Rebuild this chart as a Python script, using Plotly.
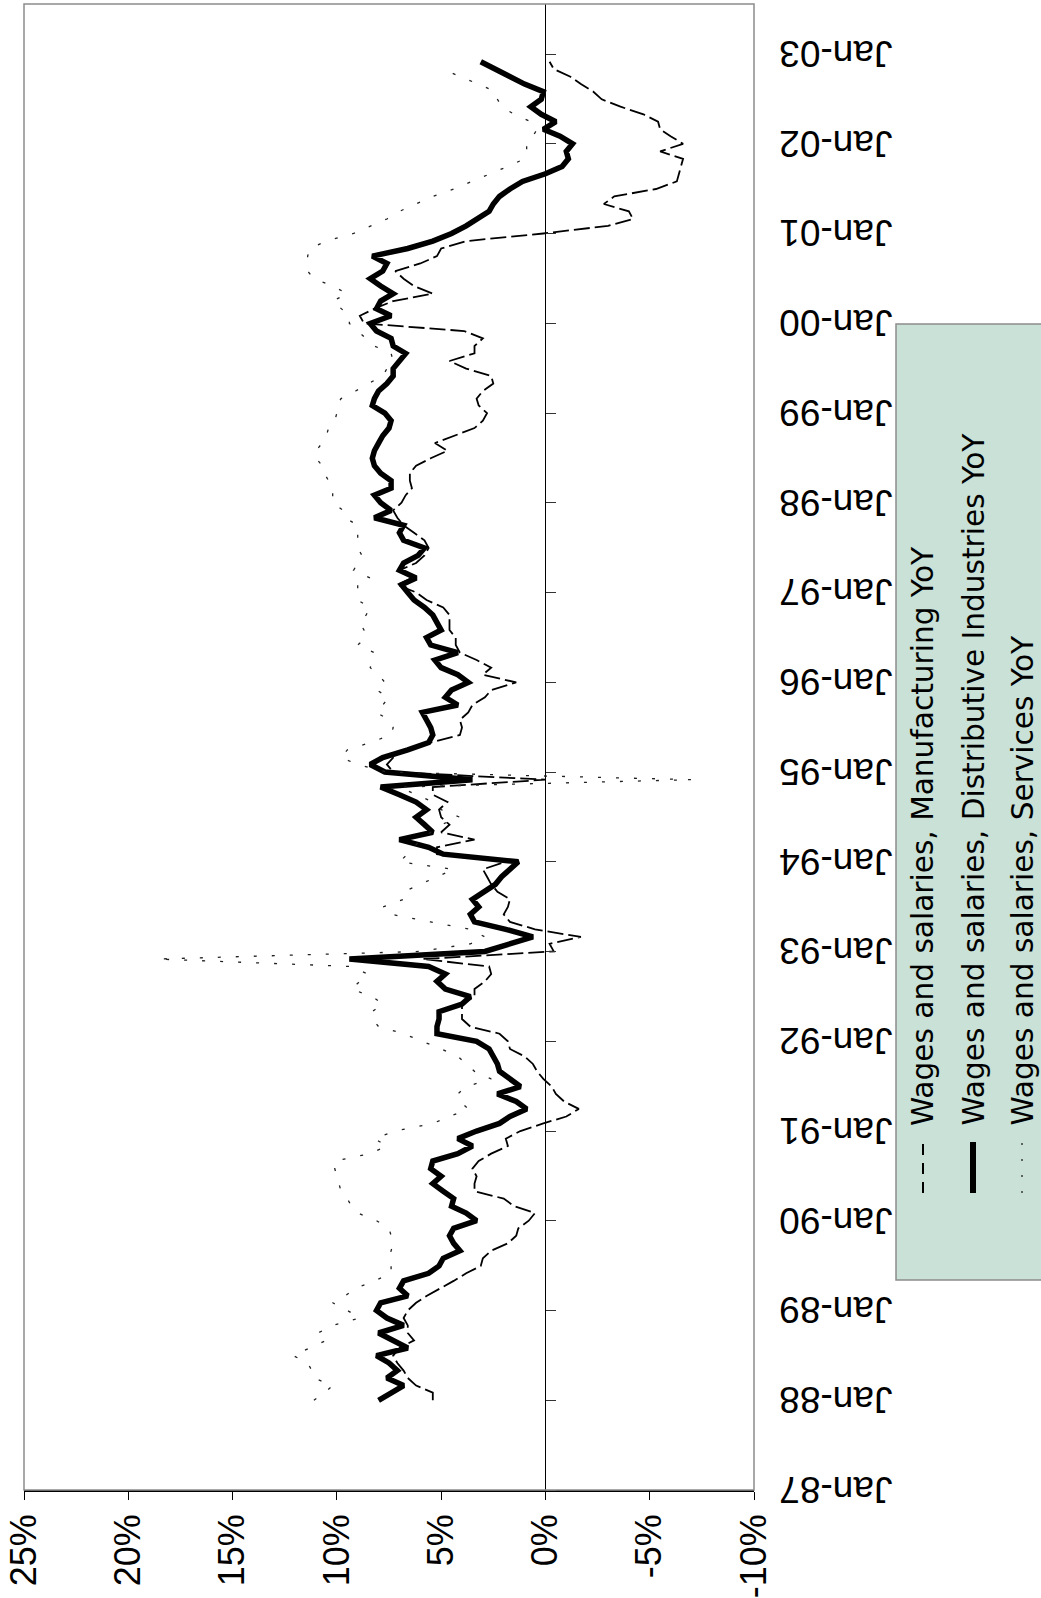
import pandas as pd
import plotly.graph_objects as go

# ---------------- data (YoY %, monthly from Jan-88) ----------------
START = "1988-01-01"

MANUFACTURING = [
    5.4, 5.4, 6.2, 6.6, 6.8, 7.1, 7.3, 7.0, 6.3, 6.6, 6.6, 6.8,
    6.6, 6.2, 5.7, 5.0, 4.4, 3.8, 3.1, 3.0, 2.6, 1.8, 1.4, 1.3,
    0.8, 0.5, 1.5, 2.0, 3.4, 3.4, 3.3, 3.5, 3.2, 2.6, 1.8, 1.9,
    1.2, 0.1, -1.0, -1.6, -0.9, -0.5, -0.3, 0.1, 0.4, 0.6, 1.0, 1.7,
    1.8, 2.2, 3.6, 4.0, 4.0, 4.0, 3.4, 3.4, 2.9, 2.6, 2.7, 5.9,
    -0.4, -0.2, -1.7, 0.5, 1.7, 2.0, 1.8, 1.7, 2.3, 2.6, 2.8, 3.0,
    1.9, 5.2, 5.2, 3.4, 5.0, 4.6, 5.0, 5.1, 4.7, 5.4, 5.4, 0.0,
    7.3, 7.6, 7.3, 6.8, 5.5, 4.1, 4.0, 4.1, 3.7, 3.5, 2.9, 2.6,
    1.4, 3.0, 2.6, 3.3, 4.1, 4.3, 4.3, 4.6, 4.6, 4.6, 4.9, 5.7,
    6.2, 7.1, 6.4, 7.0, 6.2, 5.8, 5.6, 5.8, 6.3, 6.8, 7.1, 7.3,
    6.9, 6.7, 6.4, 6.5, 6.5, 6.2, 5.5, 4.7, 5.3, 4.4, 3.4, 3.0,
    2.8, 3.2, 3.3, 3.0, 2.5, 2.6, 3.8, 4.6, 3.4, 3.4, 3.0, 3.9,
    8.7, 8.9, 8.2, 7.3, 5.4, 6.3, 6.8, 7.2, 6.0, 5.2, 5.0, 3.8,
    0.1, -3.0, -4.2, -4.0, -2.8, -3.3, -5.3, -6.3, -6.4, -6.5, -6.6, -5.5,
    -6.6, -6.0, -5.5, -5.4, -4.7, -3.6, -2.7, -2.3, -1.7, -1.2, -0.4, -0.2,
]

DISTRIBUTIVE = [
    8.0, 7.4, 6.8, 7.6, 7.1, 7.5, 8.1, 6.6, 7.3, 8.0, 6.8, 7.6,
    8.1, 7.9, 6.6, 7.0, 6.8, 5.6, 5.1, 4.9, 4.1, 4.4, 4.6, 4.4,
    3.3, 3.8, 4.5, 4.4, 4.9, 5.4, 5.0, 5.5, 5.4, 4.2, 3.5, 4.2,
    3.3, 2.2, 1.7, 0.9, 1.4, 2.3, 1.2, 1.7, 2.2, 2.3, 2.5, 2.7,
    3.3, 5.2, 5.2, 5.1, 5.1, 4.0, 3.6, 4.8, 5.2, 4.8, 5.6, 9.4,
    2.9, 1.6, 0.6, 1.9, 3.4, 3.6, 3.2, 3.5, 2.9, 2.4, 2.1, 1.7,
    1.3, 4.9, 5.6, 7.0, 5.4, 5.8, 6.2, 5.7, 6.2, 7.0, 7.9, 3.5,
    7.7, 8.4, 7.8, 6.6, 5.6, 5.4, 5.5, 5.7, 5.9, 4.2, 4.8, 4.5,
    3.7, 4.2, 5.0, 5.3, 4.2, 5.5, 5.7, 5.0, 5.2, 5.4, 5.8, 6.3,
    6.6, 6.9, 6.2, 7.0, 6.8, 6.1, 5.8, 6.8, 7.0, 6.8, 8.2, 7.4,
    7.9, 8.2, 7.4, 7.4, 7.9, 8.2, 8.3, 8.2, 8.0, 7.8, 7.5, 7.4,
    7.7, 8.3, 8.2, 8.0, 7.6, 7.3, 7.3, 7.0, 6.7, 7.3, 7.4, 8.1,
    8.4, 7.4, 8.1, 7.9, 7.3, 7.9, 8.4, 7.8, 7.6, 8.3, 6.6, 5.4,
    4.5, 3.8, 3.3, 2.7, 2.5, 2.2, 1.7, 1.1, 0.0, -0.8, -1.1, -1.0,
    -1.3, -0.7, 0.1, -0.5, 0.2, 0.7, 0.2, 0.1, 1.0, 1.7, 2.5, 3.1,
]

SERVICES = [
    11.1, 10.6, 10.2, 11.1, 11.2, 11.4, 12.1, 11.3, 10.5, 10.9, 10.2, 8.9,
    9.5, 10.2, 9.6, 9.1, 8.2, 7.4, 7.4, 7.5, 7.4, 7.3, 7.4, 7.5,
    8.1, 9.0, 9.3, 9.5, 9.8, 9.9, 10.0, 10.1, 10.1, 8.4, 7.6, 8.2,
    7.2, 5.4, 4.6, 3.7, 4.1, 4.2, 3.8, 2.6, 3.4, 3.8, 4.2, 5.0,
    5.9, 6.8, 8.0, 8.3, 8.3, 7.8, 8.3, 9.3, 8.9, 8.5, 9.4, 18.6,
    6.0, 3.6, 2.9, 3.6, 5.5, 7.4, 7.8, 6.8, 6.8, 6.0, 5.2, 4.4,
    7.0, 6.6, 6.3, 6.0, 5.5, 5.0, 4.1, 5.0, 5.4, 6.2, 7.0, -7.0,
    7.6, 9.0, 9.8, 9.5, 8.4, 7.4, 7.3, 7.5, 8.1, 7.8, 7.5, 8.1,
    7.7, 8.0, 8.4, 8.3, 8.2, 9.0, 8.6, 8.7, 8.9, 8.6, 8.4, 9.0,
    9.0, 9.0, 8.4, 9.2, 9.0, 8.8, 9.0, 9.0, 9.0, 9.0, 9.6, 9.7,
    10.2, 10.2, 10.2, 10.4, 10.6, 10.7, 11.0, 11.0, 10.7, 10.5, 10.4, 10.1,
    10.0, 10.0, 9.8, 9.1, 8.5, 7.8, 7.6, 7.3, 7.4, 8.2, 8.6, 9.0,
    9.4, 9.4, 9.8, 10.2, 9.5, 10.2, 11.1, 11.4, 11.4, 11.4, 11.3, 10.5,
    9.2, 8.4, 7.6, 7.0, 6.2, 5.4, 4.4, 3.5, 2.6, 1.8, 1.0, 0.9,
    0.9, 0.6, 0.4, 0.7, 1.5, 2.1, 2.3, 2.4, 3.2, 4.1, 4.9,
]

SERIES_NAMES = [
    "Wages and salaries, Manufacturing YoY",
    "Wages and salaries, Distributive Industries YoY",
    "Wages and salaries, Services YoY",
]

PCT_TICKS = [25, 20, 15, 10, 5, 0, -5, -10]
PCT_TICK_LABELS = ["25%", "20%", "15%", "10%", "5%", "0%", "-5%", "-10%"]
PCT_RANGE = [25, -10]

DATE_TICKS = ["%d-01-01" % y for y in range(1987, 2004)]
DATE_TICK_LABELS = ["Jan-%02d" % (y % 100) for y in range(1987, 2004)]
DATE_RANGE = ["1987-01-01", "2003-07-24"]

# ---------------- figure geometry ----------------
W, H = 1041, 1598
ML, MR, MT, MB = 24, 287, 4, 108
PW, PH = W - ML - MR, H - MT - MB


def px(xpix):
    return (xpix - ML) / PW


def py(ypix):
    return (H - MB - ypix) / PH


dates_m = pd.date_range(START, periods=len(MANUFACTURING), freq="MS")
dates_d = pd.date_range(START, periods=len(DISTRIBUTIVE), freq="MS")
dates_s = pd.date_range(START, periods=len(SERVICES), freq="MS")

fig = go.Figure()
fig.add_trace(go.Scatter(
    x=MANUFACTURING, y=dates_m, mode="lines", name=SERIES_NAMES[0],
    line=dict(color="black", width=1.8, dash="16px,5px"),
))
fig.add_trace(go.Scatter(
    x=DISTRIBUTIVE, y=dates_d, mode="lines", name=SERIES_NAMES[1],
    line=dict(color="black", width=5.5),
))
fig.add_trace(go.Scatter(
    x=SERVICES, y=dates_s, mode="lines", name=SERIES_NAMES[2], yaxis="y2",
    line=dict(color="#222222", width=1.3, dash="3px,15px"),
))

x_tick_font = dict(family="Liberation Sans, Arial, sans-serif", size=36, color="black")
y_tick_font = dict(family="Liberation Sans, Arial, sans-serif", size=37, color="black")

fig.update_layout(
    width=W, height=H, autosize=False,
    margin=dict(l=ML, r=MR, t=MT, b=MB, pad=0, autoexpand=False),
    paper_bgcolor="white", plot_bgcolor="white",
    showlegend=False,
    xaxis=dict(
        range=PCT_RANGE, tickvals=PCT_TICKS, ticktext=PCT_TICK_LABELS,
        tickangle=-90, tickfont=x_tick_font, automargin=False,
        ticks="outside", ticklen=8, tickwidth=1.2, tickcolor="black",
        showline=True, linecolor="black", linewidth=1.5,
        showgrid=False, zeroline=True, zerolinecolor="black", zerolinewidth=1.2,
        fixedrange=True,
    ),
    yaxis=dict(
        range=DATE_RANGE, type="date", side="right", anchor="x",
        tickvals=DATE_TICKS, ticktext=DATE_TICK_LABELS,
        tickangle=180, tickfont=y_tick_font, automargin=False,
        ticks="outside", ticklen=130, tickcolor="rgba(0,0,0,0)",
        ticklabelshift=11,
        showline=False, showgrid=False, zeroline=False, fixedrange=True,
    ),
    yaxis2=dict(
        range=DATE_RANGE, type="date", overlaying="y", matches="y",
        anchor="free", position=px(ML + PW * (25 / 35)), side="right",
        tickvals=DATE_TICKS, showticklabels=False, automargin=False,
        ticks="outside", ticklen=10, tickwidth=1.2, tickcolor="#333333",
        showline=False, showgrid=False, zeroline=False, fixedrange=True,
    ),
)

# plot-area border (grey)
fig.add_shape(type="rect", xref="paper", yref="paper", x0=0, x1=1, y0=0, y1=1,
              line=dict(color="#8c8c8c", width=1.5), layer="above")

# ---------------- legend (rotated, drawn by hand) ----------------
LEG_X0, LEG_X1, LEG_Y0, LEG_Y1 = 896, 1050, 324, 1280
fig.add_shape(type="rect", xref="paper", yref="paper",
              x0=px(LEG_X0), x1=px(LEG_X1), y0=py(LEG_Y1), y1=py(LEG_Y0),
              fillcolor="rgb(201,225,215)", line=dict(color="#8c8c8c", width=1.5),
              layer="below")

legend_cols = [923, 973, 1022]
sample_styles = [
    dict(color="black", width=2, dash="11px,8px"),
    dict(color="black", width=6),
    dict(color="#222222", width=1.3, dash="2px,14px"),
]
for cx, name, st in zip(legend_cols, SERIES_NAMES, sample_styles):
    fig.add_shape(type="line", xref="paper", yref="paper",
                  x0=px(cx), x1=px(cx), y0=py(1193), y1=py(1142), line=st)
    fig.add_annotation(
        x=px(cx), y=py(1128), xref="paper", yref="paper",
        text=name, textangle=-90, showarrow=False,
        xanchor="center", yanchor="bottom",
        font=dict(family="DejaVu Sans, sans-serif", size=29.6, color="black"),
    )

fig.write_html("out.html", config={"displayModeBar": False},
               post_script="document.body.style.margin='0';")
